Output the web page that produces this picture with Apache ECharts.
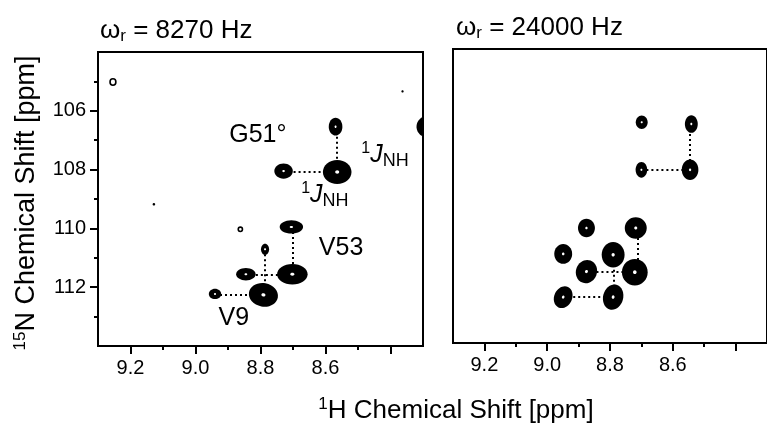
<!DOCTYPE html>
<html>
<head>
<meta charset="utf-8">
<script src="https://cdn.jsdelivr.net/npm/echarts@6/dist/echarts.min.js"></script>
<style>
html, body { margin: 0; padding: 0; background: #fff; }
#chart { width: 767px; height: 433px; }
</style>
</head>
<body>
<div id="chart"></div>
<script>
// 轴范围和刻度 (ppm)
var hRange = [8.3, 9.3];
var nRange = [104, 114];
var hLabels = [9.2, 9.0, 8.8, 8.6];
var hTicks = [9.2, 9.0, 8.8, 8.6, 8.4];
var hMinor = [9.1, 8.9, 8.7, 8.5];
var nLabels = [106, 108, 110, 112];
var nMinor = [105, 107, 109, 111, 113];

// 峰: [1H, 15N, 1H线宽, 15N线宽, 倾斜]
var peaks8270 = [
    [8.569, 106.54, 0.042, 0.60, 0],
    [8.564, 108.08, 0.088, 0.82, 0],
    [8.729, 108.05, 0.057, 0.52, 0],
    [8.280, 106.54, 0.080, 0.78, 0],
    [8.705, 109.95, 0.072, 0.45, 0],
    [8.786, 110.71, 0.025, 0.38, 0],
    [8.845, 111.56, 0.060, 0.42, 0],
    [8.702, 111.56, 0.094, 0.70, 0],
    [8.940, 112.23, 0.038, 0.35, 0],
    [8.791, 112.26, 0.090, 0.80, 10]
];
var rings8270 = [
    [9.254, 105.02, 0.018, 0.22],
    [8.862, 110.03, 0.013, 0.15]
];
var dots8270 = [
    [8.363, 105.34, 0.007, 0.08],
    [9.128, 109.18, 0.008, 0.09]
];
// 虚线连接: [h1, n1, h2, n2]
var links8270 = [
    [8.729, 108.07, 8.564, 108.07],
    [8.566, 106.54, 8.566, 108.08],
    [8.702, 109.95, 8.702, 111.56],
    [8.845, 111.56, 8.702, 111.56],
    [8.786, 110.71, 8.786, 112.26],
    [8.940, 112.24, 8.791, 112.24]
];
var notes8270 = [
    [8.808, 106.83, 'G51°'],
    [8.417, 107.51, '{sup|1}{it|J}{sub|NH}'],
    [8.602, 108.87, '{sup|1}{it|J}{sub|NH}'],
    [8.552, 110.67, 'V53'],
    [8.882, 113.04, 'V9']
];

var peaks24000 = [
    [8.699, 106.49, 0.038, 0.46, 0],
    [8.541, 106.55, 0.041, 0.60, 0],
    [8.700, 108.11, 0.037, 0.54, 0],
    [8.545, 108.11, 0.053, 0.70, 0],
    [8.875, 110.09, 0.054, 0.63, 0],
    [8.718, 110.09, 0.070, 0.73, 0],
    [8.949, 110.97, 0.057, 0.67, 0],
    [8.790, 111.00, 0.073, 0.87, 0],
    [8.875, 111.57, 0.067, 0.80, 20],
    [8.721, 111.59, 0.082, 0.90, 0],
    [8.949, 112.44, 0.057, 0.77, 25],
    [8.790, 112.44, 0.064, 0.87, 15]
];
var links24000 = [
    [8.545, 106.55, 8.545, 108.11],
    [8.700, 108.11, 8.545, 108.11],
    [8.712, 110.09, 8.712, 111.59],
    [8.875, 111.57, 8.721, 111.57],
    [8.788, 111.00, 8.788, 112.44],
    [8.949, 112.44, 8.790, 112.44]
];

var FONT = '"Liberation Sans", Arial, Helvetica, sans-serif';

var myChart = echarts.init(document.getElementById('chart'));

function peakItem(params, api) {
    var c = api.coord([api.value(0), api.value(1)]);
    var s = api.size([api.value(2), api.value(3)]);
    var rx = s[0] / 2, ry = s[1] / 2;
    return {
        type: 'group',
        x: c[0], y: c[1],
        rotation: -api.value(4) * Math.PI / 180,
        children: [
            { type: 'ellipse', shape: { cx: 0, cy: 0, rx: rx, ry: ry }, style: { fill: '#000' } },
            { type: 'ellipse', shape: { cx: 0, cy: 0, rx: Math.max(1, rx * 0.14), ry: Math.max(1, ry * 0.14) }, style: { fill: '#fff' } }
        ]
    };
}
function ringItem(params, api) {
    var c = api.coord([api.value(0), api.value(1)]);
    var s = api.size([api.value(2), api.value(3)]);
    return { type: 'ellipse', shape: { cx: c[0], cy: c[1], rx: s[0] / 2, ry: s[1] / 2 },
             style: { fill: '#fff', stroke: '#000', lineWidth: 1.6 } };
}
function dotItem(params, api) {
    var c = api.coord([api.value(0), api.value(1)]);
    var s = api.size([api.value(2), api.value(3)]);
    return { type: 'ellipse', shape: { cx: c[0], cy: c[1], rx: s[0] / 2, ry: s[1] / 2 }, style: { fill: '#000' } };
}

var rich = {
    sup: { fontSize: 16, fontFamily: FONT, padding: [0, 0, 14, 0] },
    it: { fontSize: 25, fontFamily: FONT, fontStyle: 'italic' },
    sub: { fontSize: 18, fontFamily: FONT, padding: [12, 0, 0, 0] }
};
function noteItem(params, api) {
    var c = api.coord([api.value(0), api.value(1)]);
    return { type: 'text', x: c[0], y: c[1],
             style: { text: notes8270[params.dataIndex][2], rich: rich, fontSize: 25, fontFamily: FONT,
                      fill: '#000', align: 'center', verticalAlign: 'middle' } };
}

function linkData(arr) {
    return arr.map(function (l) { return { coords: [[l[0], l[1]], [l[2], l[3]]] }; });
}

function mainX(grid) {
    return {
        type: 'value', gridIndex: grid, min: hRange[0], max: hRange[1], inverse: true, position: 'bottom',
        axisLine: { show: true, lineStyle: { color: '#000', width: 2 } },
        axisTick: { show: true, length: 8, customValues: hTicks, lineStyle: { color: '#000', width: 2 } },
        axisLabel: { customValues: hLabels, margin: 12, color: '#000', fontSize: 20, fontFamily: FONT,
                     formatter: function (v) { return v.toFixed(1); } },
        splitLine: { show: false }
    };
}
function minorX(grid) {
    return {
        type: 'value', gridIndex: grid, min: hRange[0], max: hRange[1], inverse: true, position: 'bottom',
        axisLine: { show: false },
        axisTick: { show: true, length: 4, customValues: hMinor, lineStyle: { color: '#000', width: 2 } },
        axisLabel: { show: false },
        splitLine: { show: false }
    };
}

var option = {
    backgroundColor: '#fff',
    animation: false,
    grid: [
        { left: 98, top: 52, width: 325, height: 294, show: true, borderColor: '#000', borderWidth: 2 },
        { left: 453, top: 49, width: 324, height: 294, show: true, borderColor: '#000', borderWidth: 2 }
    ],
    xAxis: [mainX(0), minorX(0), mainX(1), minorX(1)],
    yAxis: [
        {
            type: 'value', gridIndex: 0, min: nRange[0], max: nRange[1], inverse: true, position: 'left',
            axisLine: { show: true, lineStyle: { color: '#000', width: 2 } },
            axisTick: { show: true, length: 8, customValues: nLabels, lineStyle: { color: '#000', width: 2 } },
            axisLabel: { customValues: nLabels, margin: 12, color: '#000', fontSize: 20, fontFamily: FONT },
            splitLine: { show: false }
        },
        {
            type: 'value', gridIndex: 0, min: nRange[0], max: nRange[1], inverse: true, position: 'left',
            axisLine: { show: false },
            axisTick: { show: true, length: 4, customValues: nMinor, lineStyle: { color: '#000', width: 2 } },
            axisLabel: { show: false },
            splitLine: { show: false }
        },
        {
            type: 'value', gridIndex: 1, min: nRange[0], max: nRange[1], inverse: true, position: 'left',
            axisLine: { show: true, lineStyle: { color: '#000', width: 2 } },
            axisTick: { show: false }, axisLabel: { show: false }, splitLine: { show: false }
        }
    ],
    graphic: [
        { type: 'text', x: 100, y: 31, style: { text: 'ω{r|r} = 8270 Hz', fontSize: 26, fontFamily: FONT, fill: '#000',
            verticalAlign: 'middle', rich: { r: { fontSize: 17, fontFamily: FONT, padding: [11, 0, 0, 0] } } } },
        { type: 'text', x: 456, y: 28, style: { text: 'ω{r|r} = 24000 Hz', fontSize: 26, fontFamily: FONT, fill: '#000',
            verticalAlign: 'middle', rich: { r: { fontSize: 17, fontFamily: FONT, padding: [11, 0, 0, 0] } } } },
        { type: 'text', x: 456, y: 411, style: { text: '{s|1}H Chemical Shift [ppm]', fontSize: 26, fontFamily: FONT, fill: '#000',
            align: 'center', verticalAlign: 'middle', rich: { s: { fontSize: 17, fontFamily: FONT, padding: [0, 0, 14, 0] } } } },
        { type: 'text', x: 27, y: 203, rotation: Math.PI / 2, style: { text: '{s|15}N Chemical Shift [ppm]', fontSize: 27, fontFamily: FONT, fill: '#000',
            align: 'center', verticalAlign: 'middle', rich: { s: { fontSize: 17, fontFamily: FONT, padding: [0, 0, 14, 0] } } } }
    ],
    series: [
        {
            type: 'lines', coordinateSystem: 'cartesian2d', xAxisIndex: 0, yAxisIndex: 0, z: 1,
            data: linkData(links8270), lineStyle: { color: '#000', width: 2, type: [2, 3], opacity: 1 }
        },
        { type: 'custom', xAxisIndex: 0, yAxisIndex: 0, clip: true, z: 3, data: peaks8270, renderItem: peakItem },
        { type: 'custom', xAxisIndex: 0, yAxisIndex: 0, z: 3, data: rings8270, renderItem: ringItem },
        { type: 'custom', xAxisIndex: 0, yAxisIndex: 0, z: 3, data: dots8270, renderItem: dotItem },
        { type: 'custom', xAxisIndex: 0, yAxisIndex: 0, z: 4, data: notes8270.map(function (d) { return [d[0], d[1]]; }), renderItem: noteItem },
        {
            type: 'lines', coordinateSystem: 'cartesian2d', xAxisIndex: 2, yAxisIndex: 2, z: 1,
            data: linkData(links24000), lineStyle: { color: '#000', width: 2, type: [2, 3], opacity: 1 }
        },
        { type: 'custom', xAxisIndex: 2, yAxisIndex: 2, clip: true, z: 3, data: peaks24000, renderItem: peakItem }
    ]
};

myChart.setOption(option);
</script>
</body>
</html>
